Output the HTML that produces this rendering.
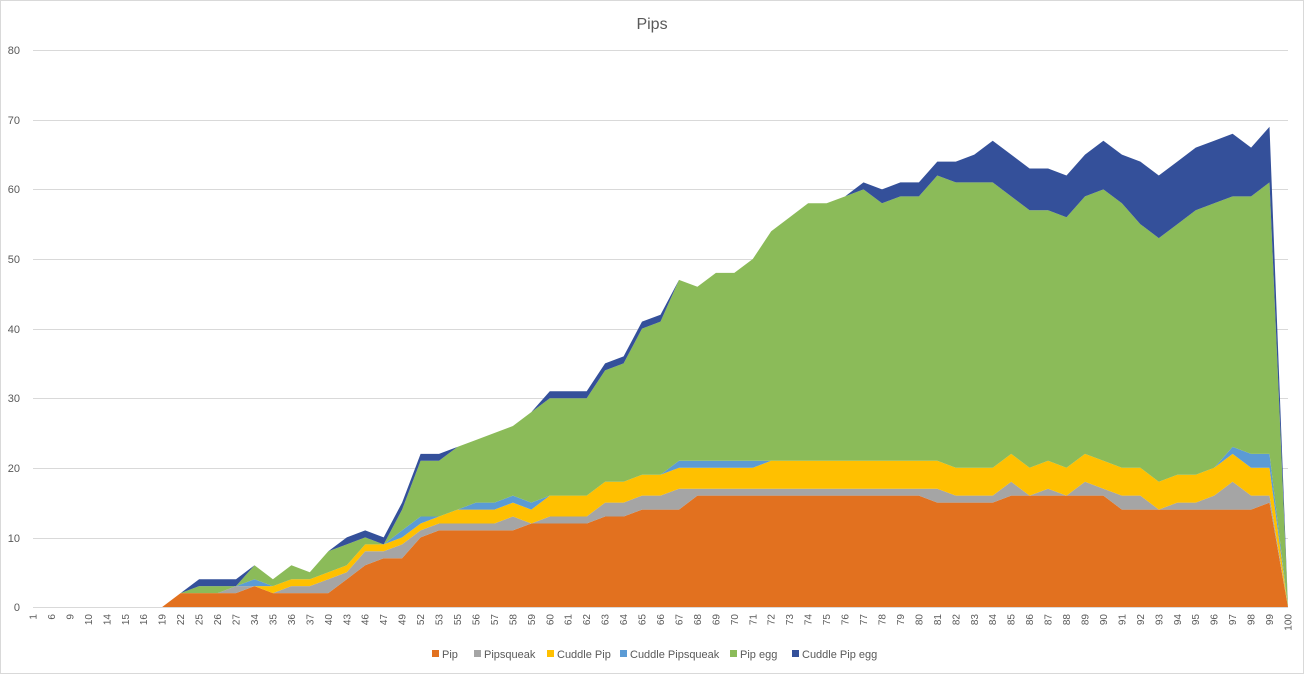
<!DOCTYPE html>
<html><head><meta charset="utf-8"><style>
html,body{margin:0;padding:0;background:#fff;}
svg{display:block;font-family:"Liberation Sans",sans-serif;}
</style></head><body>
<svg id="c" width="1304" height="674" viewBox="0 0 1304 674" xmlns="http://www.w3.org/2000/svg">
<rect x="0.5" y="0.5" width="1303" height="673" fill="#fff" stroke="#d9d9d9"/>
<text x="652" y="29" font-size="16" fill="#595959" text-anchor="middle">Pips</text>
<g stroke="#d9d9d9" stroke-width="1">
<line x1="33" x2="1288" y1="50.5" y2="50.5"/><line x1="33" x2="1288" y1="120.5" y2="120.5"/>
<line x1="33" x2="1288" y1="189.5" y2="189.5"/><line x1="33" x2="1288" y1="259.5" y2="259.5"/>
<line x1="33" x2="1288" y1="329.5" y2="329.5"/><line x1="33" x2="1288" y1="398.5" y2="398.5"/>
<line x1="33" x2="1288" y1="468.5" y2="468.5"/><line x1="33" x2="1288" y1="538.5" y2="538.5"/>
<line x1="33" x2="1288" y1="607.5" y2="607.5"/>
</g>
<g font-size="11" fill="#595959" text-anchor="end">
<text x="20" y="54">80</text><text x="20" y="124">70</text><text x="20" y="193">60</text>
<text x="20" y="263">50</text><text x="20" y="333">40</text><text x="20" y="402">30</text>
<text x="20" y="472">20</text><text x="20" y="542">10</text><text x="20" y="611">0</text>
</g>
<g id="areas"></g>
<g id="xl" font-size="10" fill="#595959"></g>
<g font-size="11" fill="#595959">
<rect x="432" y="650" width="7" height="7" fill="#E2711F"/><text x="442" y="658">Pip</text>
<rect x="474" y="650" width="7" height="7" fill="#A5A5A5"/><text x="484" y="658">Pipsqueak</text>
<rect x="547" y="650" width="7" height="7" fill="#FFC000"/><text x="557" y="658">Cuddle Pip</text>
<rect x="620" y="650" width="7" height="7" fill="#5B9BD5"/><text x="630" y="658">Cuddle Pipsqueak</text>
<rect x="730" y="650" width="7" height="7" fill="#8BBB59"/><text x="740" y="658">Pip egg</text>
<rect x="792" y="650" width="7" height="7" fill="#34509A"/><text x="802" y="658">Cuddle Pip egg</text>
</g>
</svg>
<script>
var labels=[1,6,9,10,14,15,16,19,22,25,26,27,34,35,36,37,40,43,46,47,49,52,53,55,56,57,58,59,60,61,62,63,64,65,66,67,68,69,70,71,72,73,74,75,76,77,78,79,80,81,82,83,84,85,86,87,88,89,90,91,92,93,94,95,96,97,98,99,100];
// [pip, psq, cp, cps, egg, cpe]
var d=[
[0,0,0,0,0,0],[0,0,0,0,0,0],[0,0,0,0,0,0],[0,0,0,0,0,0],[0,0,0,0,0,0],[0,0,0,0,0,0],[0,0,0,0,0,0],[0,0,0,0,0,0],
[2,0,0,0,0,0],[2,0,0,0,1,1],[2,0,0,0,1,1],[2,1,0,0,0,1],
[3,0,0,1,2,0],[2,0,1,0,1,0],[2,1,1,0,2,0],[2,1,1,0,1,0],[2,2,1,0,3,0],[4,1,1,0,3,1],[6,2,1,0,1,1],[7,1,1,0,0,1],[7,2,1,1,3,1],
[10,1,1,1,8,1],[11,1,1,0,8,1],
[11,1,2,0,9,0],[11,1,2,1,9,0],[11,1,2,1,10,0],[11,2,2,1,10,0],[12,0,2,1,13,0],[12,1,3,0,14,1],[12,1,3,0,14,1],[12,1,3,0,14,1],
[13,2,3,0,16,1],[13,2,3,0,17,1],[14,2,3,0,21,1],[14,2,3,0,22,1],[14,3,3,1,26,0],[16,1,3,1,25,0],[16,1,3,1,27,0],[16,1,3,1,27,0],[16,1,3,1,29,0],
[16,1,4,0,33,0],[16,1,4,0,35,0],[16,1,4,0,37,0],[16,1,4,0,37,0],[16,1,4,0,38,0],[16,1,4,0,39,1],[16,1,4,0,37,2],[16,1,4,0,38,2],[16,1,4,0,38,2],
[15,2,4,0,41,2],[15,1,4,0,41,3],[15,1,4,0,41,4],[15,1,4,0,41,6],[16,2,4,0,37,6],[16,0,4,0,37,6],[16,1,4,0,36,6],[16,0,4,0,36,6],[16,2,4,0,37,6],
[16,1,4,0,39,7],[14,2,4,0,38,7],[14,2,4,0,35,9],[14,0,4,0,35,9],[14,1,4,0,36,9],[14,1,4,0,38,9],[14,2,4,0,38,9],[14,4,4,1,36,9],[14,2,4,2,37,7],[15,1,4,2,39,8],
[0,0,0,0,0,0]];
var cols=["#E2711F","#A5A5A5","#FFC000","#5B9BD5","#8BBB59","#34509A"];
var x0=33,dx=(1288-33)/68,y0=607,sy=69.6/10;
var NS="http://www.w3.org/2000/svg";
var cum=d.map(function(){return 0;});
var g=document.getElementById("areas");
for(var s=0;s<6;s++){
  var lower=cum.slice(),upper=[];
  for(var i=0;i<d.length;i++){upper.push(lower[i]+d[i][s]);}
  var pts=[];
  for(var i=0;i<d.length;i++)pts.push((x0+i*dx).toFixed(1)+","+(y0-upper[i]*sy).toFixed(1));
  for(var i=d.length-1;i>=0;i--)pts.push((x0+i*dx).toFixed(1)+","+(y0-lower[i]*sy).toFixed(1));
  var p=document.createElementNS(NS,"polygon");
  p.setAttribute("points",pts.join(" "));p.setAttribute("fill",cols[s]);
  g.appendChild(p);cum=upper;
}
var xl=document.getElementById("xl");
for(var i=0;i<labels.length;i++){
  var t=document.createElementNS(NS,"text");
  var x=x0+i*dx+3.5;
  t.setAttribute("transform","translate("+x.toFixed(1)+",614) rotate(-90)");
  t.setAttribute("text-anchor","end");
  t.textContent=labels[i];xl.appendChild(t);
}
</script>
</body></html>
